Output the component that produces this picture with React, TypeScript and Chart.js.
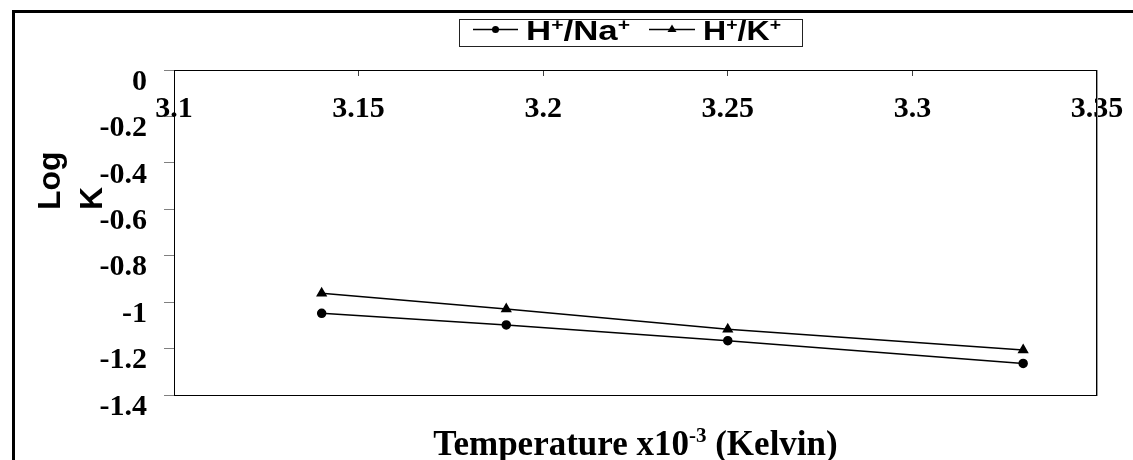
import React, { useEffect, useRef } from "react";
import { Chart, registerables } from "chart.js";

Chart.register(...registerables);

// ---- data ----
const temperatures = [3.14, 3.19, 3.25, 3.33];
const logKNa = [-1.048, -1.098, -1.166, -1.264];
const logKK = [-0.962, -1.03, -1.117, -1.206];
const seriesLabels = ["H+/Na+", "H+/K+"];
const xTickValues = [3.1, 3.15, 3.2, 3.25, 3.3, 3.35];
const yTickValues = [0, -0.2, -0.4, -0.6, -0.8, -1, -1.2, -1.4];
const xTitleParts = ["Temperature x10", "-3", " (Kelvin)"];
const yTitleLines = ["Log", "K"];

const SERIF = "'Liberation Serif', 'Times New Roman', serif";
const SANS = "'Liberation Sans', Arial, sans-serif";

function fmt(v: number, d: number) {
  return String(Number(v.toFixed(d)));
}

function drawLegendLabel(
  ctx: CanvasRenderingContext2D,
  label: string,
  x0: number,
  targetWidth: number
) {
  const parts = Array.from(label);
  const big = `bold 28px ${SANS}`;
  const small = `bold 17px ${SANS}`;
  let natural = 0;
  for (const ch of parts) {
    ctx.font = ch === "+" ? small : big;
    natural += ctx.measureText(ch).width;
  }
  const sx = targetWidth / natural;
  ctx.save();
  ctx.translate(x0, 0);
  ctx.scale(sx, 1);
  let x = 0;
  ctx.textAlign = "left";
  ctx.textBaseline = "alphabetic";
  for (const ch of parts) {
    if (ch === "+") {
      ctx.font = small;
      ctx.fillText(ch, x, 30);
    } else {
      ctx.font = big;
      ctx.fillText(ch, x, 40);
    }
    x += ctx.measureText(ch).width;
  }
  ctx.restore();
}

const decorPlugin = {
  id: "decor",
  afterDraw(chart: any) {
    const ctx: CanvasRenderingContext2D = chart.ctx;
    const ca = chart.chartArea;
    ctx.save();

    // outer frame (top and left)
    ctx.fillStyle = "#000";
    ctx.fillRect(12, 10, 1121, 3);
    ctx.fillRect(12, 10, 3, 450);

    // plot frame right & bottom
    ctx.strokeStyle = "#000";
    ctx.lineWidth = 1;
    ctx.beginPath();
    ctx.moveTo(ca.left, Math.round(ca.bottom) + 0.5);
    ctx.lineTo(ca.right + 1, Math.round(ca.bottom) + 0.5);
    ctx.moveTo(Math.round(ca.right) - 0.5, ca.top);
    ctx.lineTo(Math.round(ca.right) - 0.5, ca.bottom + 1);
    ctx.stroke();
    ctx.strokeStyle = "#999";
    ctx.beginPath();
    ctx.moveTo(Math.round(ca.right) + 0.5, ca.top);
    ctx.lineTo(Math.round(ca.right) + 0.5, ca.bottom + 1);
    ctx.stroke();

    // legend
    const lx = 459, ly = 19, lw = 343, lh = 27;
    ctx.strokeStyle = "#222";
    ctx.lineWidth = 1;
    ctx.strokeRect(lx + 0.5, ly + 0.5, lw, lh);
    const items = [
      { x0: 473, x1: 518, text: 526, width: 104, style: "circle" },
      { x0: 649, x1: 695, text: 703, width: 78, style: "triangle" },
    ];
    items.forEach((it, i) => {
      const cy = 29.5;
      ctx.strokeStyle = "#000";
      ctx.lineWidth = 1.5;
      ctx.beginPath();
      ctx.moveTo(it.x0, cy);
      ctx.lineTo(it.x1, cy);
      ctx.stroke();
      const mx = (it.x0 + it.x1) / 2;
      ctx.fillStyle = "#000";
      ctx.beginPath();
      if (it.style === "circle") {
        ctx.arc(mx, cy, 3.5, 0, Math.PI * 2);
      } else {
        ctx.moveTo(mx, cy - 5);
        ctx.lineTo(mx + 4.5, cy + 2.5);
        ctx.lineTo(mx - 4.5, cy + 2.5);
        ctx.closePath();
      }
      ctx.fill();
      drawLegendLabel(ctx, seriesLabels[i], it.text, it.width);
    });

    // x title
    ctx.fillStyle = "#000";
    ctx.textBaseline = "alphabetic";
    ctx.textAlign = "left";
    const mainFont = `bold 35px ${SERIF}`;
    const supFont = `bold 21px ${SERIF}`;
    ctx.font = mainFont;
    const w0 = ctx.measureText(xTitleParts[0]).width;
    const w2 = ctx.measureText(xTitleParts[2]).width;
    ctx.font = supFont;
    const w1 = ctx.measureText(xTitleParts[1]).width;
    const total = w0 + w1 + w2;
    let tx = (ca.left + ca.right) / 2 - total / 2;
    const base = 455;
    ctx.font = mainFont;
    ctx.fillText(xTitleParts[0], tx, base);
    tx += w0;
    ctx.font = supFont;
    ctx.fillText(xTitleParts[1], tx, base - 13);
    tx += w1;
    ctx.font = mainFont;
    ctx.fillText(xTitleParts[2], tx, base);

    // y title (rotated, lines start at bottom)
    ctx.save();
    ctx.translate(0, 210);
    ctx.rotate(-Math.PI / 2);
    ctx.font = `bold 32px ${SANS}`;
    ctx.textAlign = "left";
    ctx.textBaseline = "alphabetic";
    ctx.fillText(yTitleLines[0], 0, 60);
    ctx.fillText(yTitleLines[1], 0, 102);
    ctx.restore();

    ctx.restore();
  },
};

export default function App() {
  const ref = useRef<HTMLCanvasElement | null>(null);

  useEffect(() => {
    if (!ref.current) return;
    const chart = new Chart(ref.current, {
      type: "line",
      data: {
        datasets: [
          {
            label: seriesLabels[0],
            data: temperatures.map((t, i) => ({ x: t, y: logKNa[i] })),
            borderColor: "#000",
            backgroundColor: "#000",
            borderWidth: 1.5,
            pointStyle: "circle",
            pointRadius: 4,
            pointBackgroundColor: "#000",
            pointBorderColor: "#000",
            tension: 0,
          },
          {
            label: seriesLabels[1],
            data: temperatures.map((t, i) => ({ x: t, y: logKK[i] })),
            borderColor: "#000",
            backgroundColor: "#000",
            borderWidth: 1.5,
            pointStyle: "triangle",
            pointRadius: 5,
            pointBackgroundColor: "#000",
            pointBorderColor: "#000",
            tension: 0,
          },
        ],
      },
      options: {
        responsive: false,
        animation: false,
        layout: { padding: { left: 0, top: 70, right: 36, bottom: 65 } },
        plugins: {
          legend: { display: false },
          tooltip: { enabled: false },
          title: { display: false },
        },
        scales: {
          y: {
            type: "linear",
            min: -1.4,
            max: 0,
            afterBuildTicks: (s: any) => {
              s.ticks = yTickValues.map((v) => ({ value: v }));
            },
            afterFit: (s: any) => {
              s.width = 174;
              s.paddingTop = 0;
              s.paddingBottom = 0;
            },
            border: { display: true, color: "#000", width: 1 },
            grid: {
              drawOnChartArea: false,
              drawTicks: true,
              tickLength: 10,
              color: "#808080",
            },
            ticks: {
              font: { family: SERIF, weight: "bold", size: 30 },
              color: "#000",
              padding: 17,
              labelOffset: 12,
              callback: (v: any) => fmt(Number(v), 1),
            },
          },
          x: {
            type: "linear",
            min: 3.1,
            max: 3.35,
            position: { y: 0 } as any,
            afterBuildTicks: (s: any) => {
              s.ticks = xTickValues.map((v) => ({ value: v }));
            },
            afterFit: (s: any) => {
              s.paddingLeft = 0;
              s.paddingRight = 0;
            },
            border: { display: true, color: "#000", width: 1 },
            grid: {
              drawOnChartArea: false,
              drawTicks: true,
              tickLength: 5,
              color: "#404040",
            },
            ticks: {
              font: { family: SERIF, weight: "bold", size: 30 },
              color: "#000",
              padding: 16,
              maxRotation: 0,
              autoSkip: false,
              callback: (v: any) => fmt(Number(v), 2),
            },
          },
        },
      } as any,
      plugins: [decorPlugin],
    });
    return () => chart.destroy();
  }, []);

  return (
    <div
      style={{
        position: "fixed",
        left: 0,
        top: 0,
        width: 1133,
        height: 460,
        background: "#fff",
      }}
    >
      <canvas ref={ref} width={1133} height={460} style={{ display: "block" }} />
    </div>
  );
}
